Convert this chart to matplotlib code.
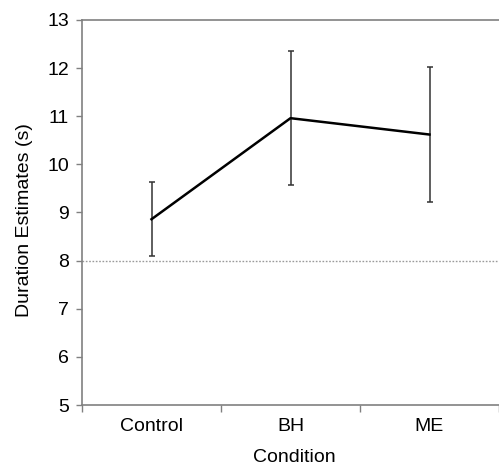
import matplotlib.pyplot as plt

# Data
conditions = ['Control', 'BH', 'ME']
means = [8.86, 10.96, 10.62]
errors = [0.77, 1.39, 1.40]
chance_level = 8.0

plt.rcParams['font.family'] = ['Liberation Sans', 'DejaVu Sans']

fig = plt.figure(figsize=(4.99, 4.65), dpi=100)
ax = fig.add_axes([82 / 499, 60 / 465, 417 / 499, 385 / 465])

xpos = [i + 0.5 for i in range(len(conditions))]

ax.axhline(chance_level, color='#9a9a9a', linestyle=(0, (1.2, 1.2)), linewidth=1.0, zorder=1)
ax.errorbar(xpos, means, yerr=errors, fmt='none', ecolor='#333333',
            elinewidth=1.1, capsize=2.5, capthick=1.1, zorder=2)
ax.plot(xpos, means, color='black', linewidth=1.8, zorder=3)

ax.set_xlim(0, 417 / 141.5)
ax.set_ylim(5, 13)
ax.set_yticks(range(5, 14))

ax.set_xticks(xpos)
ax.set_xticklabels(conditions)
ax.set_xticks([0, 1, 2, 3], minor=True)
ax.tick_params(axis='x', which='major', length=0, pad=9, labelsize=14)
ax.tick_params(axis='x', which='minor', length=5, width=1, color='#808080', direction='out')
ax.tick_params(axis='y', length=4.5, width=1, color='#808080', pad=5, labelsize=14)

for side in ['left', 'bottom', 'top']:
    ax.spines[side].set_color('#808080')
    ax.spines[side].set_linewidth(1.2)
ax.spines['right'].set_visible(False)

ax.set_xlabel('Condition', fontsize=14)
ax.xaxis.set_label_coords(1.5 / (417 / 141.5), -0.113)
ax.set_ylabel('Duration Estimates (s)', fontsize=14)
ax.yaxis.set_label_coords(-0.117, 0.48)

fig.savefig('out.png', dpi=100)
